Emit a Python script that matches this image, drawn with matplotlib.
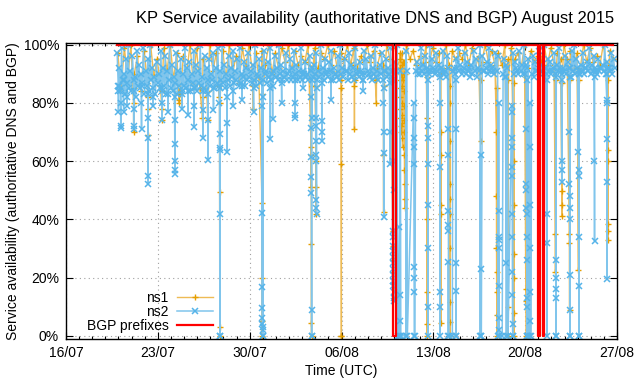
import numpy as np
import matplotlib
matplotlib.use('Agg')
import matplotlib.pyplot as plt
import matplotlib.dates as mdates

plt.rcParams['font.family'] = ['Liberation Sans', 'DejaVu Sans']

# temps en jours depuis le 16/07/2015 00:00 (UTC)
START = np.datetime64('2015-07-16T00:00')
x_ticks = ['2015-07-16', '2015-07-23', '2015-07-30', '2015-08-06',
           '2015-08-13', '2015-08-20', '2015-08-27']
y_ticks = [0, 20, 40, 60, 80, 100]

# bande dense de ns2 : un echantillon toutes les 2 h depuis le jour 3.9
ns2_band_start = 3.9
ns2_band_step = 1 / 12
ns2_band = [
    97, 86, 92, 84, 99, 88, 90, 83, 95, 87, 100, 85,
    91, 84, 96, 88, 89, 82, 98, 86, 93, 85, 90, 87,
    99, 83, 91, 86, 95, 84, 100, 88, 92, 85, 89, 83,
    94, 87, 90, 85, 98, 84, 92, 86, 96, 83, 91, 88,
    100, 85, 93, 84, 89, 87, 97, 83, 91, 86, 95, 84,
    90, 86, 99, 85, 92, 88, 94, 84, 90, 87, 98, 85,
    93, 84, 91, 87, 100, 86, 89, 85, 96, 84, 92, 88,
    95, 86, 90, 88, 97, 85, 92, 87, 99, 86, 91, 88,
    100, 87, 93, 85, 90, 88, 96, 86, 92, 89, 98, 87,
    91, 88, 95, 86, 99, 87, 90, 89, 94, 86, 92, 88,
    97, 89, 91, 87, 93, 88, 100, 86, 90, 89, 95, 87,
    92, 88, 98, 90, 91, 87, 94, 89, 99, 88, 90, 91,
    96, 89, 92, 88, 100, 90, 93, 87, 91, 89, 97, 88,
    90, 91, 95, 88, 92, 89, 98, 90, 93, 88, 91, 89,
    99, 88, 91, 90, 94, 89, 90, 88, 96, 91, 92, 89,
    93, 90, 97, 88, 91, 89, 100, 90, 92, 88, 95, 90,
    91, 89, 94, 91, 98, 88, 92, 90, 90, 89, 96, 88,
    100, 90, 92, 89, 95, 91, 91, 88, 97, 90, 93, 89,
    92, 88, 99, 90, 91, 89, 94, 91, 90, 88, 98, 90,
    95, 91, 90, 89, 96, 88, 92, 90, 100, 89, 91, 88,
    93, 90, 97, 88, 91, 91, 95, 89, 92, 90, 99, 88,
    91, 90, 94, 91, 100, 89, 92, 91, 96, 90, 93, 91,
    98, 91, 92, 90, 95, 92, 91, 89, 97, 91, 94, 90,
    92, 90, 99, 91, 93, 90, 96, 92, 91, 90, 100, 91,
    95, 92, 91, 90, 97, 91, 93, 89, 92, 91, 98, 90,
    91, 89, 96, 92, 94, 90, 100, 91, 92, 90, 95, 92,
    99, 91, 93, 90, 91, 92, 97, 90, 94, 91, 92, 89,
    93, 90, 98, 91, 95, 89, 92, 91, 100, 90, 96, 91,
    91, 92, 94, 90, 99, 91, 93, 92, 91, 90, 97, 91,
    96, 90, 92, 91, 100, 90, 95, 89, 93, 92, 91, 90,
    92, 91, 97, 90, 94, 92, 91, 90, 98, 91, 93, 90,
    100, 90, 93, 92, 95, 91, 92, 90, 96, 89, 94, 91,
    91, 92, 98, 90, 93, 91, 100, 92, 92, 90, 95, 91,
    94, 90, 91, 92, 97, 90, 93, 91, 99, 92, 91, 90,
    92, 91, 96, 90, 94, 92, 92, 89, 98, 91, 100, 90,
    95, 92, 91, 90, 93, 91, 97, 90, 92, 92, 94, 91,
    99, 90, 93, 91, 96, 92, 91, 90, 95, 91, 92, 92,
    93, 91, 100, 90, 94, 92, 92, 91, 97, 90, 95, 92,
]

# bande de ns1 : un echantillon toutes les 6 h
ns1_band_start = 3.95
ns1_band_step = 1 / 4
ns1_band = [
    97, 85, 99, 88, 100, 90, 96, 84, 98, 87, 100, 89, 95, 86, 99, 91,
    100, 88, 97, 83, 96, 90, 100, 87, 99, 85, 95, 89, 100, 91, 97, 86,
    98, 88, 100, 90, 96, 87, 99, 92, 100, 91, 97, 89, 98, 93, 100, 90,
    97, 92, 99, 94, 100, 91, 98, 93, 96, 94, 100, 92, 99, 92, 97, 95,
    100, 93, 98, 91, 97, 95, 100, 93, 99, 92, 96, 94, 100, 94, 98, 92,
    97, 93, 100, 95, 99, 92, 97, 94, 100, 95, 98, 93, 96, 93, 100, 94,
    99, 94, 97, 92, 100, 93, 98, 95, 97, 95, 100, 93, 99, 92, 96, 94,
    100, 94, 98, 93, 97, 93, 100, 95, 99, 95, 97, 92, 100, 92, 98, 94,
    96, 94, 100, 93, 99, 93, 97, 95, 100, 95, 98, 92, 97, 92, 100, 94,
    99, 94, 96, 93, 100, 93, 98, 95,
]

# chutes : (jour, valeurs successives a 10 min d'intervalle)
DIP_STEP = 1 / 144
ns1_dips = [
    (5.15, [80, 70, 85]), (6.24, [78, 69, 82]), (7.30, [78, 74, 84]),
    (8.60, [81, 80, 84]), (10.40, [75, 82]), (10.80, [74, 84]),
    (11.70, [82, 49.5, 3, 0, 80]), (14.28, [78, 86]),
    (14.94, [45.8, 20, 5, 0, 83]), (18.68, [65, 62, 51, 31.7, 4.3, 0, 86]),
    (19.05, [60, 51, 42, 86]), (20.97, [85, 59, 0, 0, 88]),
    (21.98, [86, 71, 88]), (23.66, [80, 88]), (24.20, [62, 42.5, 86]),
    (24.93, [36, 31, 26, 22, 18, 16, 90]),
    (25.45, [95, 92, 88, 85, 82, 78, 75, 72, 70, 90]),
    (25.60, [97, 93, 89, 86, 80, 76, 73, 68, 65, 88]),
    (25.75, [94, 90, 84, 79, 74, 70, 62, 57, 52, 47, 44, 90]),
    (27.50, [75, 40, 15, 4, 0, 89]), (28.55, [70, 62, 45, 42, 4.4, 90]),
    (29.24, [80, 67, 52, 47, 42, 30, 11.7, 4.6, 0, 86]),
    (31.60, [67, 88]), (32.80, [70, 48, 30, 22, 15, 7, 0, 85]),
    (33.70, [10, 0, 88]), (34.12, [60, 45, 28, 20, 7.8, 0, 87]),
    (35.05, [16, 12, 0, 89]), (37.30, [35, 22, 88]),
    (37.79, [49.6, 45, 41, 87]), (38.37, [35, 32, 9, 88]),
    (39.06, [22.6, 88]), (41.30, [64, 60, 38.5, 36, 33, 88]),
]
ns2_dips = [
    (3.99, [84, 77, 86]), (4.16, [80, 72, 71.5, 85]), (4.40, [77, 88]),
    (4.66, [79, 82]), (5.15, [78, 72, 71, 84]), (5.75, [80, 71, 86]),
    (6.24, [75, 68, 55, 52, 83]), (6.64, [79, 82]), (7.31, [80, 74, 85]),
    (7.79, [77, 83]), (8.28, [74, 66, 60, 57, 55.5, 82]), (8.85, [78, 83]),
    (9.31, [76, 84]), (9.76, [79, 71.7, 85]), (10.42, [77.6, 68, 84]),
    (10.82, [74, 60.4, 83]), (11.24, [77.6, 85]),
    (11.70, [80, 69.5, 64.4, 42, 0, 0, 64, 85]), (12.27, [73, 63, 82]),
    (12.75, [79, 84]), (13.41, [81, 86]), (14.30, [77, 85]),
    (14.94, [79, 42.3, 16.8, 9.5, 6, 4, 3, 0, 0, 2, 82]),
    (15.57, [67.5, 85]), (15.75, [74.5, 86]), (16.44, [80, 88]),
    (17.46, [80, 74.7, 76, 88]), (18.09, [85, 90]),
    (18.68, [82, 71.3, 61.5, 54.6, 49, 8.8, 0, 0, 75, 88]),
    (19.05, [75, 72, 67, 62, 60, 46.6, 44, 42, 85]),
    (19.49, [73.8, 70, 67, 87]), (20.21, [81, 88]), (22.65, [84, 88]),
    (24.20, [80, 70, 62.7, 40.9, 85]), (24.68, [70, 59.2, 87]),
    (24.89, [60, 36, 34, 31, 29, 27, 25, 23, 21, 19, 17, 15, 13, 12, 50, 88]),
    (25.42, [37.5, 14, 5, 0]),
    (26.49, [80, 75, 68, 65, 59, 23.7, 19.9, 15, 0]),
    (27.56, [72, 68, 59, 45, 30, 10, 0, 88]), (28.50, [80, 58, 15, 10, 0, 90]),
    (29.12, [71, 62, 43, 38, 36, 25.5, 0]), (29.69, [71, 25, 15.5, 0, 0, 88]),
    (31.60, [62, 22.8, 0]), (32.98, [80, 43, 34, 33, 30, 17, 6, 2, 0]),
    (33.56, [25, 0, 89]),
    (33.97, [79, 77, 68, 65, 58, 55, 42, 34, 22, 14, 4, 0]),
    (35.08, [71, 52, 50, 44, 42, 34, 26, 13, 10, 0, 0, 88]),
    (35.34, [80, 65, 45, 30, 15, 5, 0]), (36.64, [42, 32, 0, 88]),
    (37.33, [26, 20, 16, 13, 0, 0, 89]), (37.79, [60, 57, 53, 88]),
    (38.37, [70, 52, 48, 44, 40, 21, 9, 0, 0, 89]),
    (39.06, [63, 57, 55, 34, 17, 0, 0, 90]), (40.28, [60, 32.7, 89]),
    (41.22, [81, 80, 67.5, 53, 19.5, 90]),
]
# periodes ou ns2 reste a 0
ns2_out_start = [25.28, 25.52, 26.02, 29.15, 31.58, 32.95, 33.70, 35.25]
ns2_out_end = [25.42, 25.90, 26.60, 29.45, 31.66, 33.25, 34.05, 35.45]

# prefixes BGP
bgp_t = [3.9, 24.90, 24.90, 25.17, 25.17, 35.95, 35.95, 36.11, 36.11,
         36.34, 36.34, 36.45, 36.45, 41.73]
bgp_v = [100, 100, 0, 0, 100, 100, 0, 0, 100, 100, 0, 0, 100, 100]


def to_time(days):
    return START + (np.asarray(days) * 86400).astype('timedelta64[s]')


def serie(band, b0, bstep, dips, out_s=(), out_e=()):
    t = b0 + np.arange(len(band)) * bstep
    v = np.array(band, dtype=float)
    garde = np.ones(len(t), dtype=bool)
    for s, e in zip(out_s, out_e):
        garde &= ~((t > s) & (t < e))
    t, v = list(t[garde]), list(v[garde])
    for d, vals in dips:
        for i, val in enumerate(vals):
            t.append(d + i * DIP_STEP)
            v.append(val)
    for s, e in zip(out_s, out_e):
        t += [s, e]
        v += [0, 0]
    ordre = np.argsort(t)
    return to_time(np.array(t)[ordre]), np.array(v)[ordre]


t1, v1 = serie(ns1_band, ns1_band_start, ns1_band_step, ns1_dips)
t2, v2 = serie(ns2_band, ns2_band_start, ns2_band_step, ns2_dips,
               ns2_out_start, ns2_out_end)

fig = plt.figure(figsize=(6.4, 3.84), dpi=100)
ax = fig.add_axes([66 / 640, 1 - 339.3 / 384, 551 / 640, 296 / 384])

ax.plot(t1, v1, color='#eebb55', lw=1, marker='+', ms=5, mec='#E69F00',
        mew=1, label='ns1')
ax.plot(t2, v2, color='#80c5ec', lw=1.1, marker='x', ms=4.8, mec='#56B4E9',
        mew=1.1, label='ns2')
ax.plot(to_time(bgp_t), bgp_v, color='#ff0000', lw=1.6, label='BGP prefixes')

ax.set_xlim(to_time(0), to_time(41))
ax.set_ylim(-1.2, 100.5)
ax.set_xticks([np.datetime64(d) for d in x_ticks])
ax.xaxis.set_major_formatter(mdates.DateFormatter('%d/%m'))
ax.xaxis.set_minor_locator(mdates.DayLocator())
ax.set_yticks(y_ticks)
ax.set_yticklabels(['%d%%' % y for y in y_ticks])
ax.tick_params(which='major', direction='in', top=True, right=True,
               length=5, width=0.8, labelsize=10, pad=5)
ax.tick_params(which='minor', direction='in', top=True, right=False,
               length=2.5, width=0.8)
ax.grid(True, which='major', linestyle=(0, (1, 3)), color='#a0a0a0', lw=0.8)
ax.set_axisbelow(True)
for s in ax.spines.values():
    s.set_linewidth(1)

ax.set_xlabel('Time (UTC)', fontsize=10, labelpad=3)
ax.set_ylabel('Service availability (authoritative DNS and BGP)', fontsize=10)
ax.yaxis.set_label_coords(-0.0835, 0.5)
fig.text(375 / 640, 1 - 18 / 384,
         'KP Service availability (authoritative DNS and BGP) August 2015',
         ha='center', va='center', fontsize=11.9)

ax.legend(loc='lower right', bbox_to_anchor=(0.267, 0.021), markerfirst=False,
          frameon=False, handlelength=2.6, handletextpad=0.6, labelspacing=0.0,
          borderpad=0, borderaxespad=0, fontsize=10, numpoints=1)

plt.savefig('out.png', dpi=100)
